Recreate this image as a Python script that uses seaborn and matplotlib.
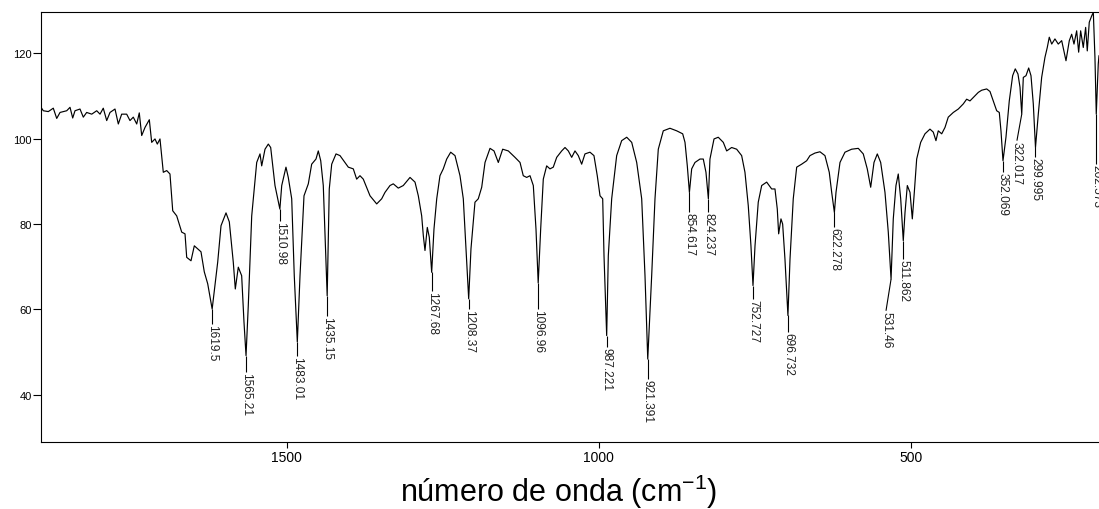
import matplotlib
matplotlib.use("Agg")
import matplotlib.pyplot as plt
from matplotlib import font_manager
import pandas as pd
import seaborn as sns

# IR spectrum trace: wavenumber (cm-1) and transmittance (%)
wavenumber = [
    1893.8, 1890.1, 1882.1, 1874.1, 1868.6, 1863.3, 1852.6, 1847.3, 1843.0, 1839.3,
    1831.3, 1826.0, 1820.6, 1812.5, 1804.5, 1799.2, 1794.0, 1788.5, 1783.2, 1775.2,
    1769.9, 1764.5, 1756.5, 1751.2, 1745.9, 1740.4, 1736.3, 1732.4, 1727.1, 1720.2,
    1716.4, 1711.1, 1707.4, 1703.1, 1697.8, 1692.3, 1687.1, 1682.7, 1676.3, 1668.3,
    1663.0, 1660.3, 1653.4, 1648.1, 1642.7, 1637.4, 1632.1, 1626.6, 1619.5, 1610.6,
    1605.3, 1597.3, 1592.0, 1585.6, 1582.4, 1577.6, 1572.2, 1568.5, 1565.21, 1561.6,
    1556.1, 1548.1, 1542.8, 1540.1, 1534.8, 1529.5, 1525.7, 1518.8, 1510.98, 1508.0,
    1501.2, 1497.5, 1492.0, 1487.9, 1483.01, 1478.7, 1472.3, 1465.4, 1460.0, 1453.1,
    1449.4, 1445.5, 1441.4, 1435.15, 1431.8, 1427.9, 1421.0, 1414.6, 1406.6, 1401.3,
    1393.3, 1387.9, 1382.6, 1377.3, 1366.5, 1355.8, 1347.8, 1342.5, 1334.5, 1329.2,
    1321.2, 1313.2, 1302.4, 1294.4, 1289.1, 1283.7, 1281.1, 1278.4, 1274.7, 1271.5,
    1267.68, 1264.0, 1259.6, 1254.4, 1249.1, 1243.6, 1237.2, 1230.3, 1222.3, 1217.0,
    1212.7, 1208.37, 1204.7, 1198.3, 1193.0, 1187.5, 1182.2, 1174.2, 1167.8, 1160.9,
    1153.9, 1144.9, 1134.2, 1126.1, 1120.9, 1115.4, 1110.1, 1104.8, 1100.5, 1096.96,
    1093.0, 1088.8, 1083.4, 1078.1, 1072.8, 1067.3, 1059.3, 1054.0, 1048.7, 1043.3,
    1038.0, 1032.7, 1027.3, 1022.0, 1014.0, 1007.6, 1002.3, 997.9, 993.6, 991.5,
    987.221, 984.6, 979.2, 971.2, 963.2, 955.1, 947.1, 939.1, 931.1, 925.8,
    921.391, 915.1, 909.8, 904.5, 896.5, 885.8, 875.0, 865.4, 861.7, 858.0,
    854.617, 851.0, 845.7, 837.7, 832.4, 828.1, 824.237, 821.7, 815.2, 808.4,
    800.3, 794.9, 786.9, 778.9, 770.9, 765.6, 760.3, 756.0, 752.727, 749.5,
    744.3, 738.8, 730.8, 722.8, 717.5, 713.8, 711.6, 707.9, 705.2, 701.5,
    696.732, 693.4, 688.2, 682.7, 674.7, 666.7, 661.4, 653.4, 645.4, 637.4,
    630.5, 626.6, 622.278, 619.7, 613.3, 605.3, 594.6, 584.0, 576.0, 569.6,
    564.1, 558.8, 553.5, 548.1, 541.2, 535.9, 531.46, 527.9, 523.6, 519.9,
    516.0, 511.862, 509.1, 505.4, 501.1, 497.4, 494.2, 490.4, 484.0, 477.1,
    469.1, 463.8, 459.5, 455.8, 450.3, 445.0, 439.8, 431.7, 423.7, 415.7,
    410.3, 405.0, 399.7, 391.6, 386.2, 378.2, 372.9, 367.6, 362.2, 358.0,
    355.3, 352.069, 347.3, 342.0, 336.6, 332.4, 328.1, 324.8, 322.017, 319.5,
    315.2, 310.9, 307.2, 303.5, 299.995, 295.5, 290.1, 284.8, 281.1, 277.9,
    274.0, 268.8, 263.5, 258.0, 251.1, 245.8, 242.0, 238.3, 234.0, 230.8,
    227.6, 223.4, 219.6, 217.0, 213.8, 209.9, 207.3, 204.7, 202.573, 199.4,
    198.2,
]

transmittance = [
    107.3, 106.5, 106.3, 107.1, 104.7, 106.1, 106.5, 107.3, 104.8, 106.5,
    106.9, 105.0, 106.1, 105.7, 106.5, 105.7, 107.1, 104.2, 106.1, 106.9,
    103.4, 105.7, 105.7, 104.2, 105.0, 103.4, 106.0, 100.7, 102.6, 104.4,
    99.1, 99.9, 98.7, 99.9, 92.1, 92.5, 91.7, 83.1, 81.9, 78.1,
    77.7, 72.2, 71.4, 74.9, 74.2, 73.5, 68.8, 66.0, 60.1, 71.1,
    79.6, 82.6, 80.5, 71.0, 64.8, 69.9, 67.9, 57.1, 49.2, 60.9,
    81.9, 94.4, 96.4, 93.6, 97.5, 98.7, 97.9, 89.0, 83.5, 89.0,
    93.3, 90.9, 85.9, 67.9, 52.4, 67.9, 86.6, 89.4, 94.0, 95.2,
    97.1, 94.8, 89.0, 63.2, 88.2, 94.0, 96.4, 96.0, 94.4, 93.3,
    92.9, 90.5, 91.3, 90.5, 86.6, 84.7, 85.9, 87.4, 89.0, 89.4,
    88.4, 89.0, 90.9, 89.8, 86.6, 81.9, 77.3, 73.8, 79.2, 76.9,
    68.7, 78.8, 85.9, 91.3, 92.9, 95.2, 96.8, 96.0, 91.3, 85.9,
    74.2, 62.5, 74.2, 85.1, 85.9, 88.6, 94.4, 97.7, 97.1, 94.4,
    97.5, 97.1, 95.6, 94.4, 91.3, 90.9, 91.3, 89.0, 78.8, 66.2,
    78.8, 90.5, 93.6, 92.9, 93.3, 95.6, 97.1, 97.9, 97.1, 95.6,
    97.1, 96.0, 94.0, 96.4, 96.8, 96.0, 91.3, 86.6, 85.9, 72.6,
    53.9, 72.6, 85.9, 96.0, 99.5, 100.3, 99.1, 94.4, 85.9, 67.9,
    48.4, 67.9, 85.9, 97.5, 101.8, 102.4, 101.8, 101.1, 99.1, 93.6,
    87.4, 92.9, 94.4, 95.2, 95.2, 92.1, 85.9, 95.2, 99.9, 100.3,
    99.1, 97.1, 97.9, 97.5, 96.0, 92.1, 84.3, 74.9, 65.6, 74.9,
    85.1, 89.0, 89.8, 88.2, 88.2, 83.5, 77.7, 81.2, 80.0, 71.8,
    58.6, 71.8, 85.9, 93.3, 94.0, 94.8, 96.0, 96.6, 96.9, 96.0,
    92.1, 87.4, 82.7, 87.4, 94.4, 96.8, 97.5, 97.7, 96.4, 92.9,
    88.6, 94.4, 96.4, 94.4, 87.4, 78.1, 67.1, 81.2, 89.0, 91.7,
    85.9, 76.1, 82.7, 89.0, 87.4, 81.2, 87.4, 95.2, 99.1, 101.1,
    102.2, 101.5, 99.5, 101.8, 101.1, 102.6, 105.0, 106.1, 106.9, 108.1,
    109.2, 108.8, 109.6, 110.8, 111.3, 111.6, 111.0, 108.8, 106.5, 106.1,
    101.8, 94.8, 100.3, 108.8, 114.7, 116.3, 115.1, 112.0, 105.7, 114.3,
    114.7, 116.5, 114.7, 108.1, 97.9, 105.7, 114.3, 119.0, 121.3, 123.7,
    122.1, 123.3, 122.1, 122.9, 118.2, 122.9, 124.4, 122.1, 125.2, 120.2,
    125.2, 121.3, 126.0, 120.5, 127.2, 128.7, 129.5, 119.0, 105.7, 117.4,
    119.4,
]

# Picked peaks (label text and position on the trace)
peak_labels = [
    "1619.5", "1565.21", "1510.98", "1483.01", "1435.15", "1267.68", "1208.37",
    "1096.96", "987.221", "921.391", "854.617", "824.237", "752.727", "696.732",
    "622.278", "531.46", "511.862", "352.069", "322.017", "299.995", "202.573",
]
peak_wavenumber = [
    1619.5, 1565.21, 1510.98, 1483.01, 1435.15, 1267.68, 1208.37,
    1096.96, 987.221, 921.391, 854.617, 824.237, 752.727, 696.732,
    622.278, 531.46, 511.862, 352.069, 322.017, 299.995, 202.573,
]

# Leader layout: vertical drop below the peak and sideways nudge of the label
leader_drop = [3.5, 3.8, 2.7, 3.3, 4.8, 4.3, 2.4, 6.1, 2.7, 4.7, 4.7,
               3.2, 3.1, 3.9, 3.5, 7.4, 4.3, 2.6, 6.2, 2.3, 11.7]
leader_shift = [0, 0, 0, 0, 0, 0, 0, 0, 0, 0, 0,
                0, 0, 0, 0, 8.1, 0, 0, 7.7, 0, 0]

x_ticks = [1500, 1000, 500]
y_ticks = [40, 60, 80, 100, 120]

sns.set_style("ticks")
plt.rcParams["font.family"] = ["Liberation Sans", "DejaVu Sans"]
plt.rcParams["mathtext.fontset"] = "custom"
plt.rcParams["mathtext.rm"] = "Liberation Sans"
plt.rcParams["mathtext.it"] = "Liberation Sans:italic"
plt.rcParams["mathtext.default"] = "regular"

# condensed face for the peak annotations when available
try:
    font_manager.findfont(font_manager.FontProperties(family="Liberation Sans Narrow"),
                          fallback_to_default=False)
    peak_font, peak_size = "Liberation Sans Narrow", 10.8
except Exception:
    peak_font, peak_size = "Liberation Sans", 8.6

fig = plt.figure(figsize=(10.99, 5.10), dpi=100)
ax = fig.add_axes([41 / 1099, 67 / 510, 1058 / 1099, 430 / 510])

spectrum = pd.DataFrame({"wavenumber": wavenumber, "transmittance": transmittance})
sns.lineplot(data=spectrum, x="wavenumber", y="transmittance", ax=ax,
             sort=False, estimator=None, color="black", linewidth=0.85)

lookup = dict(zip(wavenumber, transmittance))
for text, wn, drop, shift in zip(peak_labels, peak_wavenumber, leader_drop, leader_shift):
    depth = lookup[wn]
    x_text = wn + shift
    y_text = depth - drop
    ax.plot([wn, x_text], [depth, y_text], color="black", linewidth=0.8,
            solid_capstyle="butt")
    ax.text(x_text, y_text, text, rotation=270, ha="center", va="top",
            fontsize=peak_size, family=[peak_font, "DejaVu Sans"],
            color="#202020")

ax.set_xlim(1893.8, 198.2)
ax.set_ylim(29.0, 129.6)
ax.set_xticks(x_ticks)
ax.set_yticks(y_ticks)
ax.set_xticklabels([str(v) for v in x_ticks])
ax.set_yticklabels([str(v) for v in y_ticks])
ax.tick_params(axis="x", length=4.3, width=0.8, pad=1.5, labelsize=10, colors="black")
ax.tick_params(axis="y", length=5.5, width=0.8, pad=1.2, labelsize=8, colors="black")
ax.set_xlabel("")
ax.set_ylabel("")
for side in ["left", "bottom", "top"]:
    ax.spines[side].set_visible(True)
    ax.spines[side].set_linewidth(0.8)
    ax.spines[side].set_color("black")
ax.spines["right"].set_visible(False)

fig.text(559 / 1099, (510 - 501.7) / 510, "número de onda (cm$^{-1}$)",
         ha="center", va="baseline", fontsize=22, color="black")

fig.savefig("out.png", dpi=100)
